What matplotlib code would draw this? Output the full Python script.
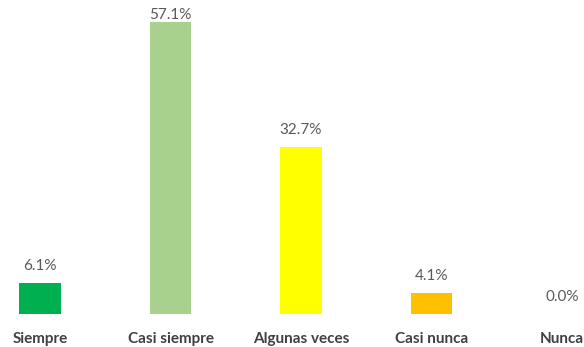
import matplotlib
matplotlib.use("Agg")
import matplotlib.pyplot as plt

categories = ["Siempre", "Casi siempre", "Algunas veces", "Casi nunca", "Nunca"]
values = [6.1, 57.1, 32.7, 4.1, 0.0]
colors = ["#00b050", "#a9d18e", "#ffff00", "#ffc000", "#ff0000"]

plt.rcParams['font.family'] = ['Lato', 'DejaVu Sans']

fig = plt.figure(figsize=(5.84, 3.47), dpi=100)
ax = fig.add_axes([0, 33/347, 1, 1 - 33/347])

x = list(range(len(categories)))
ax.bar(x, values, width=0.315, color=colors)
vmax = max(values)
for xi, v in zip(x, values):
    off = 5 if v == vmax else 12
    ax.annotate(f"{v:.1f}%", (xi, v), xytext=(0, off), textcoords="offset points",
                ha="center", va="center", fontsize=11, color="#595959")

ax.set_xlim(-40/130.5, (584-40)/130.5)
ax.set_ylim(0, 57.1 * 314/292)
ax.set_xticks(x)
ax.set_xticklabels(categories, fontsize=11, fontweight="bold", color="#404040")
ax.tick_params(axis="x", length=0, pad=13)
ax.set_yticks([])
for s in ax.spines.values():
    s.set_visible(False)

fig.savefig("out.png", dpi=100)
